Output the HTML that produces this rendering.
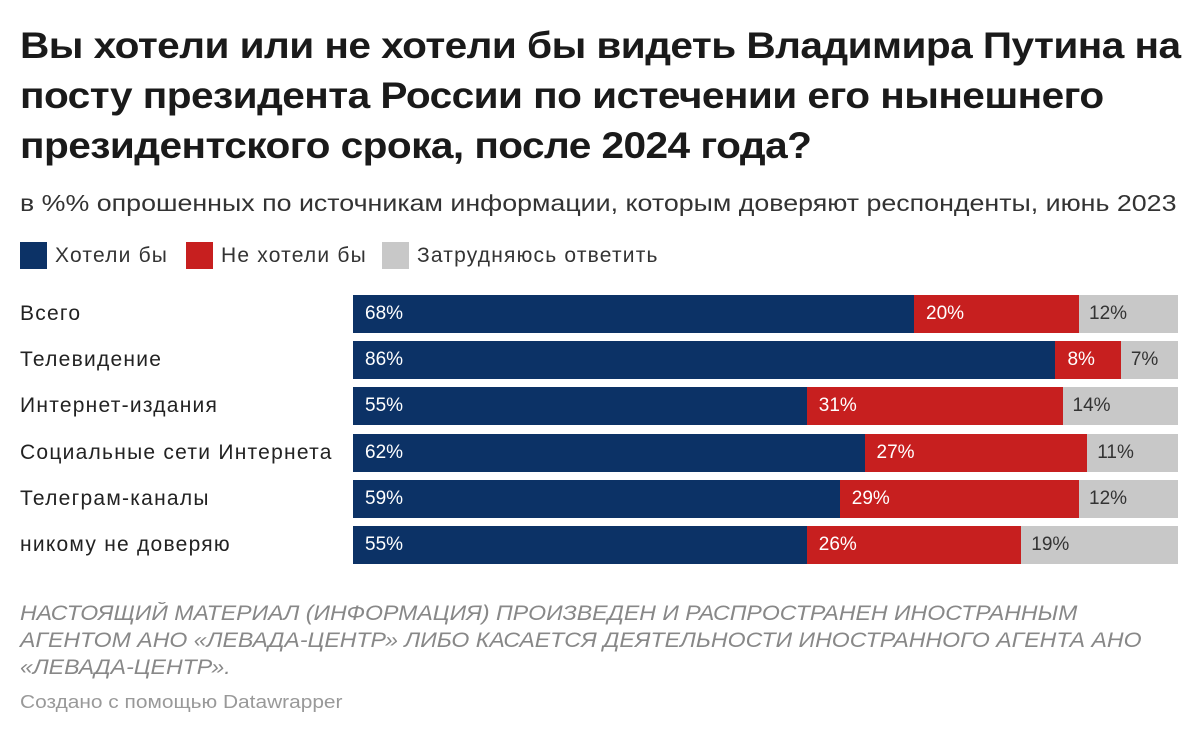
<!DOCTYPE html>
<html><head><meta charset="utf-8">
<style>
body{margin:0;width:1200px;height:738px;background:#fff;font-family:"Liberation Sans",sans-serif;position:relative;overflow:hidden;color:#111}
.abs{position:absolute;white-space:nowrap}
#title{left:20px;top:21px;font-size:37px;font-weight:bold;line-height:50px;letter-spacing:-0.5px;color:#1a1a1a;transform:scaleX(1.097);transform-origin:0 0}
#sub{left:20px;top:190px;font-size:23px;color:#333;transform:scaleX(1.165);transform-origin:0 0}
.leg{top:242px;font-size:21px;letter-spacing:1.2px;color:#333;display:flex;align-items:center}
.sw{width:27px;height:27px;margin-right:8px}
.lab{left:20px;font-size:21px;letter-spacing:1.25px;color:#222}
.seg{position:absolute;height:38px;color:#fff;font-size:19px;line-height:38px;padding-left:12px;box-sizing:border-box;white-space:nowrap;overflow:hidden}
#foot{left:20px;top:600px;font-size:21px;font-style:italic;color:#888;line-height:27px;transform:scaleX(1.1);transform-origin:0 0}
#credit{left:20px;top:692px;font-size:18px;color:#999;transform:scaleX(1.16);transform-origin:0 0}
</style></head><body>
<div id="title" class="abs">Вы хотели или не хотели бы видеть Владимира Путина на<br>посту президента России по истечении его нынешнего<br>президентского срока, после 2024 года?</div>
<div id="sub" class="abs">в %% опрошенных по источникам информации, которым доверяют респонденты, июнь 2023</div>
<div class="abs leg" style="left:20px"><div class="sw" style="background:#0c3266"></div>Хотели бы</div>
<div class="abs leg" style="left:186px"><div class="sw" style="background:#c71f1f"></div>Не хотели бы</div>
<div class="abs leg" style="left:382px"><div class="sw" style="background:#c8c8c8"></div>Затрудняюсь ответить</div>
<div id="chart" class="abs" style="left:0;top:0"></div>
<div id="foot" class="abs">НАСТОЯЩИЙ МАТЕРИАЛ (ИНФОРМАЦИЯ) ПРОИЗВЕДЕН И РАСПРОСТРАНЕН ИНОСТРАННЫМ<br>АГЕНТОМ АНО «ЛЕВАДА-ЦЕНТР» ЛИБО КАСАЕТСЯ ДЕЯТЕЛЬНОСТИ ИНОСТРАННОГО АГЕНТА АНО<br>«ЛЕВАДА-ЦЕНТР».</div>
<div id="credit" class="abs">Создано с помощью Datawrapper</div>
<script>
const categories=["Всего","Телевидение","Интернет-издания","Социальные сети Интернета","Телеграм-каналы","никому не доверяю"];
const yesVals=[68,86,55,62,59,55];
const noVals=[20,8,31,27,29,26];
const unsureVals=[12,7,14,11,12,19];
const x0=353,x1=1178,top0=295,pitch=46.2;
const chart=document.getElementById('chart');
function xs(v,t){return v/t*(x1-x0);}
categories.forEach((c,i)=>{
  const y=top0+i*pitch;
  const l=document.createElement('div');
  l.className='abs lab';l.style.top=(y+7)+'px';l.textContent=c;
  
  
  chart.appendChild(l);
  const tot=yesVals[i]+noVals[i]+unsureVals[i];
  let x=x0;
  [[yesVals[i],'#0c3266','#fff'],[noVals[i],'#c71f1f','#fff'],[unsureVals[i],'#c8c8c8','#333']].forEach((s,k)=>{
    const w=xs(s[0],tot);
    const d=document.createElement('div');
    d.className='seg';d.style.left=x+'px';d.style.top=y+'px';d.style.width=w+'px';
    d.style.background=s[1];d.style.color=s[2];
    if(k===2)d.style.paddingLeft='10px';
    d.textContent=s[0]+'%';
    
    
    chart.appendChild(d);x+=w;
  });
});
</script>
</body></html>
